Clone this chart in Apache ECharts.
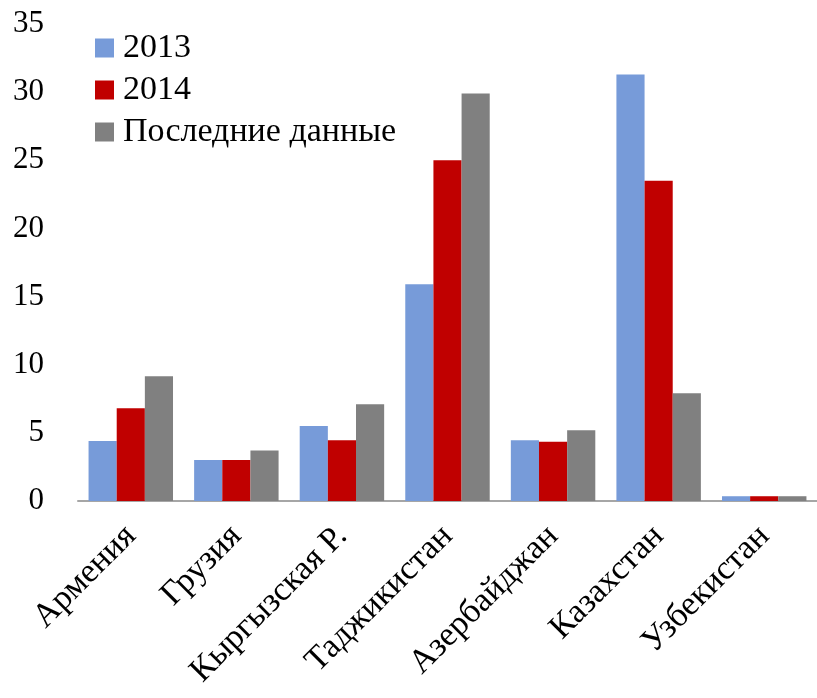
<!DOCTYPE html>
<html><head><meta charset="utf-8">
<script src="https://cdn.jsdelivr.net/npm/echarts@6/dist/echarts.min.js"></script>
<style>html,body{margin:0;padding:0;background:#fff}#c{width:817px;height:698px}</style>
</head><body><div id="c"></div>
<script>
const categories = ['Армения','Грузия','Кыргызская Р.','Таджикистан','Азербайджан','Казахстан','Узбекистан'];
const s2013 = [4.4, 3.0, 5.5, 15.9, 4.45, 31.3, 0.35];
const s2014 = [6.8, 3.0, 4.45, 25.0, 4.35, 23.5, 0.35];
const sLast = [9.15, 3.7, 7.1, 29.9, 5.2, 7.9, 0.35];
const seriesNames = ['2013','2014','Последние данные'];
const colors = ['#779BD9','#C00000','#808080'];
const yTicks = [0,5,10,15,20,25,30,35];

const font = 'Liberation Serif';
const chart = echarts.init(document.getElementById('c'));
chart.setOption({
  animation:false,
  color: colors,
  textStyle:{fontFamily:font},
  legend:{
    orient:'vertical', left:95, top:31, padding:0, itemWidth:19, itemHeight:19, itemGap:8,
    icon:'rect',
    textStyle:{fontFamily:font, fontSize:34, color:'#000', padding:[0,0,0,4], lineHeight:34},
    data: seriesNames
  },
  grid:{left:78, top:24, width:740, height:477, containLabel:false},
  xAxis:{
    type:'category', data:categories,
    axisLine:{lineStyle:{color:'#A6A6A6', width:2}},
    axisTick:{length:11, lineStyle:{color:'#A6A6A6', width:2}},
    axisLabel:{rotate:45, fontFamily:font, fontSize:34, color:'#000', margin:30, interval:0}
  },
  yAxis:{
    type:'value', min:0, max:35, interval:5,
    axisLine:{show:false}, axisTick:{show:false}, splitLine:{show:false},
    axisLabel:{fontFamily:font, fontSize:31, color:'#000', margin:34,
      formatter: v => yTicks.includes(v) ? String(v) : ''}
  },
  series:[
    {name:seriesNames[0], type:'bar', data:s2013, barGap:'0%', barCategoryGap:'20%'},
    {name:seriesNames[1], type:'bar', data:s2014, barGap:'0%', barCategoryGap:'20%'},
    {name:seriesNames[2], type:'bar', data:sLast, barGap:'0%', barCategoryGap:'20%'}
  ]
});
</script></body></html>
